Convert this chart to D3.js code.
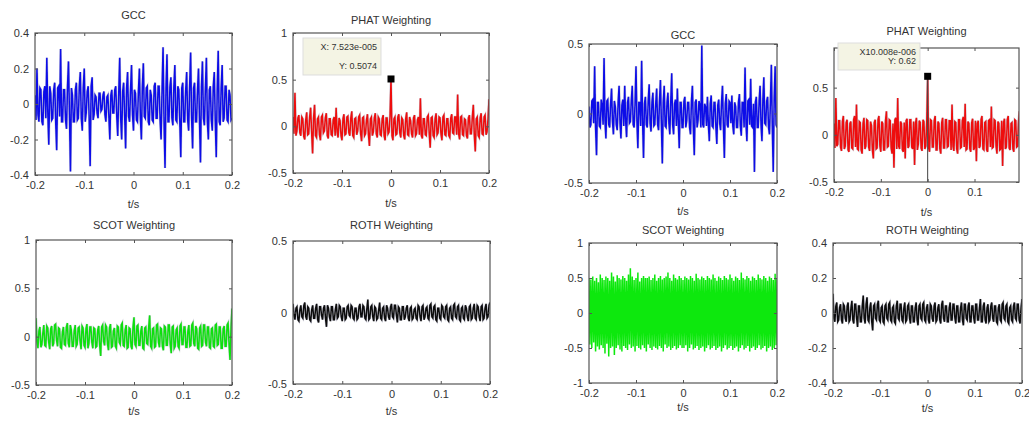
<!DOCTYPE html>
<html>
<head>
<meta charset="utf-8">
<script src="https://cdn.jsdelivr.net/npm/d3@7"></script>
<style>
  body { margin: 0; background: #fff; }
  svg text { font-family: "Liberation Sans", Arial, sans-serif; fill: #333; }
</style>
</head>
<body>
<script>
// time axis labels
var xTicksFull = [-0.2, -0.1, 0, 0.1, 0.2];
var xTicksCut = [-0.2, -0.1, 0, 0.1];

// y tick labels per panel
var yTicksGcc1 = [-0.4, -0.2, 0, 0.2, 0.4];
var yTicksPhat1 = [-0.5, 0, 0.5, 1];
var yTicksScot1 = [-0.5, 0, 0.5, 1];
var yTicksRoth1 = [-0.5, 0, 0.5];
var yTicksGcc2 = [-0.5, 0, 0.5];
var yTicksPhat2 = [-0.5, 0, 0.5];
var yTicksScot2 = [-1, -0.5, 0, 0.5, 1];
var yTicksRoth2 = [-0.4, -0.2, 0, 0.2, 0.4];

// cross-correlation values, 201 samples from -0.2 to 0.2 s
var gccLeft = [
  0.05, -0.09, 0.2, -0.06, -0.1, 0.09, 0.08, -0.1, -0.12, 0.07,
  0.1, -0.08, 0.26, -0.05, -0.23, 0.1, 0.06, -0.09, -0.08, 0.08,
  0.12, -0.1, -0.26, 0.09, 0.1, -0.07, 0.31, -0.1, -0.1, 0.08,
  0.08, -0.09, -0.14, 0.1, 0.24, -0.06, -0.38, 0.09, 0.05, -0.1,
  -0.1, 0.08, 0.12, -0.09, -0.08, 0.1, 0.18, -0.08, -0.15, 0.09,
  0.2, -0.1, -0.05, 0.07, 0.1, -0.08, -0.35, 0.1, 0.15, -0.09,
  -0.06, 0.05, 0.04, -0.05, -0.08, 0.06, 0.06, -0.04, -0.03, 0.05,
  0.07, -0.06, -0.1, 0.04, 0.05, -0.07, -0.2, 0.05, 0.08, -0.05,
  -0.05, 0.08, 0.1, -0.07, -0.18, 0.06, 0.26, -0.08, -0.2, 0.07,
  0.12, -0.06, -0.25, 0.09, 0.18, -0.07, -0.1, 0.08, 0.22, -0.06,
  -0.15, 0.08, 0.06, -0.09, -0.1, 0.07, 0.2, -0.08, -0.2, 0.1,
  0.23, -0.07, -0.08, 0.09, 0.1, -0.1, -0.12, 0.08, 0.05, -0.09,
  -0.1, 0.1, 0.12, -0.08, -0.08, 0.1, 0.1, -0.09, -0.2, 0.08,
  0.32, -0.1, -0.36, 0.09, 0.28, -0.1, -0.1, 0.1, 0.15, -0.08,
  -0.12, 0.1, 0.22, -0.09, -0.1, 0.1, 0.08, -0.1, -0.3, 0.09,
  0.12, -0.1, -0.1, 0.08, 0.18, -0.09, -0.15, 0.1, 0.29, -0.08,
  -0.25, 0.09, 0.12, -0.1, -0.1, 0.08, 0.2, -0.09, -0.33, 0.1,
  0.24, -0.08, -0.12, 0.09, 0.26, -0.1, -0.2, 0.08, 0.1, -0.09,
  -0.15, 0.1, 0.18, -0.09, -0.3, 0.08, 0.3, -0.1, -0.12, 0.09,
  0.22, -0.1, -0.08, 0.1, 0.1, -0.09, -0.1, 0.08, 0.05, -0.09,
  -0.08];

var phatLeft = [
  0.1, -0.08, 0.36, -0.1, -0.05, 0.09, 0.12, -0.07, -0.1, 0.1,
  0.08, -0.11, -0.14, 0.07, 0.15, -0.09, -0.08, 0.1, 0.2, -0.06,
  -0.29, 0.09, 0.23, -0.1, -0.12, 0.08, 0.1, -0.09, -0.15, 0.1,
  0.12, -0.07, -0.05, 0.09, 0.14, -0.1, -0.13, 0.08, 0.08, -0.09,
  -0.1, 0.07, 0.1, -0.1, 0.2, -0.06, -0.12, 0.09, 0.06, -0.1,
  -0.15, 0.08, 0.13, -0.09, -0.08, 0.1, 0.11, -0.07, -0.1, 0.09,
  0.16, -0.1, -0.12, 0.08, 0.09, -0.09, -0.05, 0.1, 0.12, -0.08,
  -0.16, 0.09, 0.1, -0.1, -0.08, 0.07, 0.13, -0.09, -0.21, 0.08,
  0.1, -0.1, -0.06, 0.09, 0.14, -0.08, -0.12, 0.1, 0.08, -0.09,
  -0.1, 0.08, 0.12, -0.1, -0.15, 0.09, 0.09, -0.08, -0.06, 0.1,
  0.5074, -0.1, -0.15, 0.08, 0.1, -0.09, -0.08, 0.1, 0.13, -0.07,
  -0.12, 0.09, 0.07, -0.1, -0.14, 0.08, 0.15, -0.09, -0.1, 0.1,
  0.06, -0.08, -0.12, 0.09, 0.12, -0.1, -0.08, 0.07, 0.1, -0.09,
  0.3, -0.1, -0.13, 0.08, 0.08, -0.09, -0.1, 0.1, 0.12, -0.07,
  -0.23, 0.09, 0.1, -0.1, -0.12, 0.08, 0.14, -0.09, -0.07, 0.1,
  0.09, -0.08, -0.15, 0.1, 0.12, -0.09, -0.1, 0.08, 0.08, -0.1,
  -0.12, 0.09, 0.13, -0.07, -0.08, 0.1, 0.1, -0.09, 0.34, -0.08,
  -0.14, 0.1, 0.11, -0.09, -0.1, 0.08, 0.07, -0.1, -0.13, 0.09,
  0.12, -0.08, -0.08, 0.1, 0.23, -0.09, -0.27, 0.08, 0.1, -0.1,
  -0.12, 0.09, 0.14, -0.08, -0.09, 0.1, 0.12, -0.09, -0.06, 0.08,
  0.29];

var scotLeft = [
  0.19, -0.05, -0.12, 0.06, 0.1, -0.11, -0.08, 0.04, 0.12, -0.09,
  -0.1, 0.11, 0.09, -0.06, -0.13, 0.08, 0.11, -0.1, -0.07, 0.12,
  0.13, -0.04, -0.1, 0.09, 0.08, -0.11, -0.12, 0.05, 0.1, -0.08,
  -0.09, 0.1, 0.14, -0.07, -0.11, 0.12, 0.07, -0.1, -0.1, 0.06,
  0.12, -0.1, -0.08, 0.09, 0.1, -0.05, -0.13, 0.11, 0.09, -0.09,
  -0.11, 0.08, 0.13, -0.12, -0.07, 0.1, 0.1, -0.06, -0.12, 0.09,
  0.08, -0.11, -0.1, 0.07, 0.11, -0.09, -0.2, 0.1, 0.12, -0.05,
  -0.09, 0.12, 0.1, -0.08, -0.14, 0.09, 0.13, -0.11, -0.1, 0.06,
  0.09, -0.1, -0.12, 0.11, 0.1, -0.06, -0.08, 0.12, 0.14, -0.09,
  -0.1, 0.07, 0.12, -0.12, -0.11, 0.09, 0.08, -0.1, -0.13, 0.1,
  0.2, -0.08, -0.1, 0.11, 0.12, -0.09, -0.09, 0.06, 0.11, -0.12,
  -0.13, 0.09, 0.1, -0.07, -0.08, 0.1, 0.22, -0.1, -0.12, 0.08,
  0.09, -0.11, -0.1, 0.12, 0.13, -0.06, -0.11, 0.09, 0.08, -0.1,
  -0.14, 0.11, 0.1, -0.09, -0.09, 0.12, 0.12, -0.08, -0.17, 0.1,
  0.11, -0.12, -0.1, 0.07, 0.09, -0.1, -0.12, 0.11, 0.13, -0.08,
  -0.08, 0.1, 0.1, -0.11, -0.11, 0.06, 0.12, -0.1, -0.09, 0.12,
  0.14, -0.07, -0.1, 0.11, 0.08, -0.12, -0.13, 0.09, 0.11, -0.1,
  -0.09, 0.12, 0.12, -0.06, -0.1, 0.1, 0.1, -0.11, -0.12, 0.08,
  0.09, -0.1, -0.11, 0.12, 0.13, -0.09, -0.08, 0.1, 0.1, -0.12,
  -0.12, 0.08, 0.11, -0.1, -0.1, 0.12, 0.14, -0.08, -0.24, 0.1,
  0.29];

var rothLeft = [
  0.06, -0.02, -0.05, 0.03, 0.04, -0.05, -0.06, 0.02, 0.05, -0.03,
  -0.04, 0.05, 0.07, -0.03, -0.05, 0.04, 0.03, -0.05, -0.06, 0.02,
  0.05, -0.04, -0.04, 0.03, 0.06, -0.05, -0.07, 0.04, 0.04, -0.02,
  -0.05, 0.03, 0.05, -0.04, -0.1, 0.05, 0.03, -0.03, -0.06, 0.04,
  0.04, -0.05, -0.05, 0.02, 0.06, -0.04, -0.03, 0.05, 0.04, -0.03,
  -0.06, 0.03, 0.03, -0.05, -0.04, 0.04, 0.05, -0.02, -0.03, 0.05,
  0.04, -0.04, -0.05, 0.03, 0.03, -0.05, -0.04, 0.04, 0.06, -0.03,
  -0.03, 0.05, 0.04, -0.04, -0.05, 0.03, 0.09, -0.05, -0.04, 0.04,
  0.05, -0.03, -0.06, 0.04, 0.03, -0.05, -0.04, 0.02, 0.07, -0.04,
  -0.05, 0.03, 0.04, -0.04, -0.06, 0.05, 0.03, -0.03, -0.05, 0.04,
  0.06, -0.03, -0.04, 0.05, 0.05, -0.02, -0.07, 0.04, 0.03, -0.05,
  -0.05, 0.04, 0.04, -0.05, -0.03, 0.03, 0.05, -0.04, -0.06, 0.03,
  0.04, -0.05, -0.04, 0.02, 0.03, -0.04, -0.05, 0.05, 0.04, -0.03,
  -0.06, 0.04, 0.05, -0.05, -0.03, 0.03, 0.04, -0.04, -0.05, 0.05,
  0.06, -0.03, -0.04, 0.04, 0.05, -0.05, -0.06, 0.03, 0.03, -0.04,
  -0.05, 0.05, 0.04, -0.03, -0.04, 0.04, 0.05, -0.05, -0.06, 0.03,
  0.04, -0.04, -0.05, 0.05, 0.06, -0.03, -0.04, 0.04, 0.05, -0.05,
  -0.06, 0.03, 0.04, -0.04, -0.05, 0.05, 0.03, -0.03, -0.06, 0.04,
  0.05, -0.05, -0.04, 0.03, 0.06, -0.04, -0.05, 0.05, 0.04, -0.03,
  -0.06, 0.04, 0.05, -0.05, -0.04, 0.03, 0.06, -0.04, -0.03, 0.05,
  0.07];

var gccRight = [
  0.05, -0.1, -0.08, 0.09, 0.1, -0.07, 0.34, -0.1, -0.3, 0.08,
  0.08, -0.09, -0.1, 0.1, 0.06, -0.08, 0.4, -0.05, -0.18, 0.09,
  0.1, -0.08, -0.1, 0.07, 0.18, -0.06, -0.15, 0.09, 0.05, -0.08,
  -0.12, 0.08, 0.2, -0.07, -0.18, 0.06, 0.1, -0.09, 0.2, -0.06,
  -0.17, 0.08, 0.12, -0.07, -0.06, 0.09, 0.2, -0.08, -0.1, 0.07,
  0.34, -0.06, -0.25, 0.08, 0.08, -0.09, 0.38, -0.05, -0.32, 0.07,
  0.12, -0.08, -0.1, 0.09, 0.21, -0.07, -0.13, 0.08, 0.15, -0.09,
  -0.08, 0.07, 0.18, -0.08, -0.12, 0.09, 0.24, -0.07, -0.36, 0.08,
  0.2, -0.09, -0.1, 0.08, 0.15, -0.07, -0.15, 0.09, 0.29, -0.08,
  -0.15, 0.07, 0.1, -0.09, 0.18, -0.06, -0.25, 0.08, 0.08, -0.1,
  -0.1, 0.09, 0.12, -0.1, -0.05, 0.08, 0.08, -0.1, -0.15, 0.09,
  0.2, -0.1, -0.3, 0.08, 0.1, -0.1, -0.05, 0.09, 0.06, -0.1,
  0.49, -0.08, -0.1, 0.07, 0.05, -0.09, 0.12, -0.08, -0.2, 0.07,
  0.13, -0.09, -0.1, 0.08, 0.08, -0.1, -0.22, 0.06, 0.1, -0.07,
  -0.12, 0.08, 0.2, -0.09, -0.32, 0.07, 0.14, -0.08, -0.1, 0.09,
  0.08, -0.07, 0.13, -0.09, -0.15, 0.08, 0.05, -0.1, -0.1, 0.08,
  0.14, -0.09, -0.16, 0.08, 0.08, -0.1, 0.33, -0.07, -0.2, 0.09,
  0.1, -0.08, 0.25, -0.09, -0.1, 0.07, -0.42, 0.08, 0.12, -0.1,
  -0.1, 0.09, 0.2, -0.08, -0.2, 0.1, 0.26, -0.07, -0.08, 0.09,
  0.12, -0.1, -0.15, 0.08, 0.35, -0.09, -0.42, 0.1, 0.34, -0.08,
  -0.1];

var phatRight = [
  0.12, -0.14, 0.39, -0.12, -0.1, 0.15, 0.15, -0.13, -0.17, 0.14,
  0.2, -0.15, -0.12, 0.13, 0.16, -0.16, -0.18, 0.12, 0.14, -0.14,
  -0.15, 0.16, 0.2, -0.13, 0.32, -0.15, -0.16, 0.14, 0.13, -0.16,
  -0.2, 0.12, 0.18, -0.15, -0.12, 0.16, 0.15, -0.13, -0.17, 0.14,
  0.1, -0.16, -0.25, 0.13, 0.16, -0.15, -0.14, 0.16, 0.2, -0.12,
  -0.18, 0.14, 0.12, -0.16, -0.16, 0.15, 0.25, -0.13, -0.12, 0.16,
  0.15, -0.14, -0.2, 0.12, -0.35, 0.16, 0.18, -0.15, 0.39, -0.12,
  -0.15, 0.14, 0.12, -0.16, -0.18, 0.13, -0.25, 0.15, 0.17, -0.14,
  -0.12, 0.16, 0.16, -0.13, -0.15, 0.14, -0.32, 0.12, 0.18, -0.16,
  -0.1, 0.15, 0.13, -0.14, -0.17, 0.16, 0.14, -0.15, -0.12, 0.13,
  0.62, -0.14, -0.18, 0.16, 0.15, -0.13, -0.13, 0.15, 0.2, -0.16,
  -0.16, 0.14, 0.12, -0.15, -0.2, 0.13, 0.18, -0.14, -0.14, 0.16,
  0.16, -0.13, -0.12, 0.15, 0.15, -0.16, 0.32, -0.12, -0.17, 0.14,
  0.13, -0.15, -0.2, 0.16, 0.16, -0.14, -0.13, 0.15, 0.19, -0.13,
  0.33, -0.16, -0.15, 0.14, 0.12, -0.15, -0.18, 0.13, 0.17, -0.16,
  -0.14, 0.15, -0.28, 0.12, 0.15, -0.14, -0.12, 0.16, 0.2, -0.15,
  -0.16, 0.13, 0.14, -0.16, -0.18, 0.15, 0.16, -0.13, 0.3, -0.14,
  -0.13, 0.16, 0.15, -0.12, -0.2, 0.14, 0.12, -0.16, -0.15, 0.15,
  -0.33, 0.13, 0.17, -0.15, -0.13, 0.16, 0.2, -0.14, -0.16, 0.12,
  0.13, -0.15, -0.18, 0.16, 0.15, -0.13, -0.12, 0.14, 0.25, -0.16,
  -0.1];

var scotRight = [
  0.5, -0.45, 0.48, -0.5, 0.52, -0.42, 0.46, -0.55, 0.5, -0.48,
  0.44, -0.52, 0.55, -0.46, 0.5, -0.5, 0.47, -0.58, 0.52, -0.44,
  0.5, -0.62, 0.46, -0.5, 0.58, -0.48, 0.52, -0.6, 0.45, -0.5,
  0.54, -0.46, 0.5, -0.52, 0.48, -0.55, 0.53, -0.47, 0.5, -0.5,
  0.46, -0.53, 0.55, -0.45, 0.64, -0.5, 0.52, -0.48, 0.47, -0.55,
  0.5, -0.47, 0.58, -0.5, 0.45, -0.52, 0.5, -0.46, 0.53, -0.5,
  0.5, -0.55, 0.5, -0.45, 0.52, -0.5, 0.47, -0.53, 0.5, -0.48,
  0.55, -0.5, 0.46, -0.52, 0.5, -0.47, 0.53, -0.5, 0.48, -0.55,
  0.5, -0.45, 0.52, -0.5, 0.58, -0.48, 0.5, -0.53, 0.46, -0.5,
  0.55, -0.47, 0.5, -0.52, 0.48, -0.5, 0.53, -0.46, 0.5, -0.5,
  0.47, -0.5, 0.52, -0.46, 0.5, -0.55, 0.48, -0.5, 0.53, -0.45,
  0.5, -0.52, 0.46, -0.5, 0.56, -0.47, 0.5, -0.53, 0.48, -0.5,
  0.52, -0.48, 0.5, -0.55, 0.47, -0.5, 0.53, -0.46, 0.5, -0.52,
  0.48, -0.5, 0.55, -0.47, 0.5, -0.53, 0.46, -0.5, 0.52, -0.48,
  0.5, -0.55, 0.47, -0.5, 0.53, -0.46, 0.5, -0.52, 0.48, -0.5,
  0.55, -0.47, 0.5, -0.53, 0.46, -0.5, 0.52, -0.48, 0.5, -0.55,
  0.47, -0.5, 0.58, -0.46, 0.5, -0.52, 0.48, -0.5, 0.53, -0.47,
  0.5, -0.55, 0.46, -0.5, 0.52, -0.48, 0.5, -0.53, 0.47, -0.5,
  0.55, -0.46, 0.5, -0.52, 0.48, -0.5, 0.53, -0.47, 0.5, -0.55,
  0.46, -0.5, 0.52, -0.48, 0.5, -0.53, 0.47, -0.5, 0.56, -0.46,
  0.5];

var rothRight = [
  0.11, -0.03, -0.05, 0.04, 0.06, -0.05, -0.04, 0.03, 0.05, -0.04,
  -0.06, 0.05, 0.04, -0.03, -0.05, 0.04, 0.06, -0.05, -0.04, 0.03,
  0.07, -0.04, -0.06, 0.05, 0.05, -0.03, -0.08, 0.04, 0.04, -0.05,
  -0.05, 0.04, 0.1, -0.03, -0.06, 0.05, 0.09, -0.04, -0.05, 0.03,
  0.06, -0.05, -0.1, 0.04, 0.05, -0.03, -0.04, 0.05, 0.07, -0.04,
  -0.05, 0.03, 0.04, -0.05, -0.06, 0.04, 0.05, -0.03, -0.04, 0.05,
  0.06, -0.04, -0.05, 0.03, 0.04, -0.05, -0.06, 0.04, 0.07, -0.03,
  -0.04, 0.05, 0.05, -0.04, -0.05, 0.03, 0.06, -0.05, -0.04, 0.04,
  0.05, -0.03, -0.06, 0.04, 0.04, -0.05, -0.05, 0.03, 0.06, -0.04,
  -0.07, 0.04, 0.05, -0.03, -0.04, 0.05, 0.06, -0.04, -0.05, 0.03,
  0.05, -0.04, -0.06, 0.05, 0.04, -0.03, -0.05, 0.04, 0.06, -0.05,
  -0.04, 0.03, 0.05, -0.04, -0.06, 0.05, 0.07, -0.03, -0.05, 0.04,
  0.04, -0.05, -0.05, 0.03, 0.06, -0.04, -0.04, 0.05, 0.05, -0.03,
  -0.06, 0.04, 0.04, -0.05, -0.05, 0.03, 0.06, -0.04, -0.07, 0.05,
  0.05, -0.03, -0.04, 0.04, 0.06, -0.05, -0.05, 0.04, 0.04, -0.03,
  -0.06, 0.05, 0.05, -0.04, -0.04, 0.03, 0.08, -0.05, -0.05, 0.04,
  0.06, -0.04, -0.06, 0.03, 0.05, -0.05, -0.04, 0.04, 0.06, -0.03,
  -0.05, 0.04, 0.04, -0.05, -0.06, 0.03, 0.05, -0.04, -0.05, 0.05,
  0.06, -0.03, -0.04, 0.04, 0.05, -0.05, -0.06, 0.03, 0.04, -0.04,
  -0.05, 0.04, 0.06, -0.03, -0.04, 0.05, 0.05, -0.04, -0.06, 0.03,
  0.08];

// data tips (x, y of the marked peak and their labels)
var tipLeft = { x: 0, y: 0.5074, lines: ["X: 7.523e-005", "Y: 0.5074"] };
var tipRight = { x: 0, y: 0.62, lines: ["X10.008e-006", "Y: 0.62"] };

// sample times
var tGrid = d3.range(201).map(i => -0.2 + i * 0.002);

var svg = d3.select("body").append("svg")
  .attr("width", 1029)
  .attr("height", 421);

var defs = svg.append("defs");

// the original is a soft, blurred scan; smear the traces a little
defs.append("filter").attr("id", "soft")
  .append("feGaussianBlur").attr("stdDeviation", 0.45);

// one entry per subplot: box, domains, look
var panels = [
  { title: "GCC", data: gccLeft, color: "#1010e8", x0: 35, x1: 232, y0: 33, y1: 175,
    yDom: [-0.4, 0.4], yTicks: yTicksGcc1, xDom: [-0.2, 0.2], xTicks: xTicksFull, titleY: 19, labelY: 208 },
  { title: "PHAT Weighting", data: phatLeft, color: "#ee1010", x0: 293, x1: 489, y0: 33, y1: 173,
    yDom: [-0.5, 1], yTicks: yTicksPhat1, xDom: [-0.2, 0.2], xTicks: xTicksFull, titleY: 24, labelY: 207, tip: tipLeft,
    tipBox: [303, 38, 78, 37] },
  { title: "SCOT Weighting", data: scotLeft, color: "#10e010", x0: 36, x1: 232, y0: 240, y1: 385,
    yDom: [-0.5, 1], yTicks: yTicksScot1, xDom: [-0.2, 0.2], xTicks: xTicksFull, titleY: 229, labelY: 415 },
  { title: "ROTH Weighting", data: rothLeft, color: "#111", x0: 293, x1: 490, y0: 241, y1: 384,
    yDom: [-0.5, 0.5], yTicks: yTicksRoth1, xDom: [-0.2, 0.2], xTicks: xTicksFull, titleY: 229, labelY: 415 },
  { title: "GCC", data: gccRight, color: "#1010e8", x0: 589, x1: 777, y0: 44, y1: 183,
    yDom: [-0.5, 0.5], yTicks: yTicksGcc2, xDom: [-0.2, 0.2], xTicks: xTicksFull, titleY: 39, labelY: 215 },
  { title: "PHAT Weighting", data: phatRight, color: "#ee1010", x0: 834, x1: 1019, y0: 48, y1: 182,
    yDom: [-0.5, 0.92], yTicks: yTicksPhat2, xDom: [-0.2, 0.195], xTicks: xTicksCut, titleY: 35, labelY: 216, tip: tipRight,
    tipBox: [838, 43, 82, 27], stem: true },
  { title: "SCOT Weighting", data: scotRight, color: "#10e810", x0: 589, x1: 777, y0: 243, y1: 383,
    yDom: [-1, 1], yTicks: yTicksScot2, xDom: [-0.2, 0.2], xTicks: xTicksFull, titleY: 234, labelY: 411, noHalo: true },
  { title: "ROTH Weighting", data: rothRight, color: "#111", x0: 833, x1: 1022, y0: 243, y1: 383,
    yDom: [-0.4, 0.4], yTicks: yTicksRoth2, xDom: [-0.2, 0.2], xTicks: xTicksFull, titleY: 234, labelY: 412 }
];

var fmt = d => (d === 0 ? "0" : String(d));

panels.forEach(function(p, k) {
  var x = d3.scaleLinear().domain(p.xDom).range([p.x0, p.x1]);
  var y = d3.scaleLinear().domain(p.yDom).range([p.y1, p.y0]);
  var g = svg.append("g");

  defs.append("clipPath").attr("id", "clip" + k)
    .append("rect")
    .attr("x", p.x0).attr("y", p.y0)
    .attr("width", p.x1 - p.x0).attr("height", p.y1 - p.y0);

  // signal: grey halo under the coloured trace
  var line = d3.line().x((d, i) => x(tGrid[i])).y(d => y(d));
  var plot = g.append("g").attr("clip-path", "url(#clip" + k + ")")
    .append("g").attr("filter", "url(#soft)");
  if (!p.noHalo) {
    plot.append("path")
      .datum(p.data)
      .attr("d", line)
      .attr("fill", "none")
      .attr("stroke", "#55557a")
      .attr("stroke-opacity", 0.3)
      .attr("stroke-width", 2.4);
  }
  plot.append("path")
    .datum(p.data)
    .attr("d", line)
    .attr("fill", "none")
    .attr("stroke", p.color)
    .attr("stroke-width", 1.5);

  if (p.stem) {
    plot.append("line")
      .attr("x1", x(p.tip.x)).attr("x2", x(p.tip.x))
      .attr("y1", y(p.tip.y)).attr("y2", p.y1)
      .attr("stroke", "#444").attr("stroke-width", 1);
  }

  // axes, MATLAB style ticks pointing in
  var tickLen = 3;
  g.append("g")
    .attr("transform", `translate(0,${p.y1})`)
    .call(d3.axisBottom(x).tickValues(p.xTicks).tickSize(-tickLen).tickPadding(6).tickFormat(fmt))
    .call(a => a.select(".domain").remove());
  g.append("g")
    .attr("transform", `translate(0,${p.y0})`)
    .call(d3.axisTop(x).tickValues(p.xTicks).tickSize(-tickLen).tickFormat(""))
    .call(a => a.select(".domain").remove());
  g.append("g")
    .attr("transform", `translate(${p.x0},0)`)
    .call(d3.axisLeft(y).tickValues(p.yTicks).tickSize(-tickLen).tickPadding(6).tickFormat(fmt))
    .call(a => a.select(".domain").remove());
  g.append("g")
    .attr("transform", `translate(${p.x1},0)`)
    .call(d3.axisRight(y).tickValues(p.yTicks).tickSize(-tickLen).tickFormat(""))
    .call(a => a.select(".domain").remove());

  g.selectAll(".tick line").attr("stroke", "#555");
  g.selectAll(".tick text")
    .attr("font-size", 11)
    .attr("font-family", "Liberation Sans, Arial, sans-serif")
    .attr("fill", "#333");

  g.append("rect")
    .attr("x", p.x0).attr("y", p.y0)
    .attr("width", p.x1 - p.x0).attr("height", p.y1 - p.y0)
    .attr("fill", "none")
    .attr("stroke", "#555")
    .attr("stroke-width", 1.2);

  g.append("text")
    .attr("x", (p.x0 + p.x1) / 2)
    .attr("y", p.titleY)
    .attr("text-anchor", "middle")
    .attr("font-size", 11)
    .text(p.title);

  g.append("text")
    .attr("x", (p.x0 + p.x1) / 2)
    .attr("y", p.labelY)
    .attr("text-anchor", "middle")
    .attr("font-size", 11)
    .text("t/s");

  // data tip
  if (p.tip) {
    var b = p.tipBox;
    g.append("rect")
      .attr("x", b[0]).attr("y", b[1])
      .attr("width", b[2]).attr("height", b[3])
      .attr("fill", "#f4f4e4")
      .attr("stroke", "#ddd");
    g.append("text")
      .attr("x", b[0] + b[2] - 4).attr("y", b[1] + 12)
      .attr("text-anchor", "end")
      .attr("font-size", 9)
      .text(p.tip.lines[0]);
    g.append("text")
      .attr("x", b[0] + b[2] - 4).attr("y", b[1] + b[3] - 6)
      .attr("text-anchor", "end")
      .attr("font-size", 9)
      .text(p.tip.lines[1]);
    g.append("rect")
      .attr("x", x(p.tip.x) - 3.5).attr("y", y(p.tip.y) - 3.5)
      .attr("width", 7).attr("height", 7)
      .attr("fill", "#000");
  }
});
</script>
</body>
</html>
